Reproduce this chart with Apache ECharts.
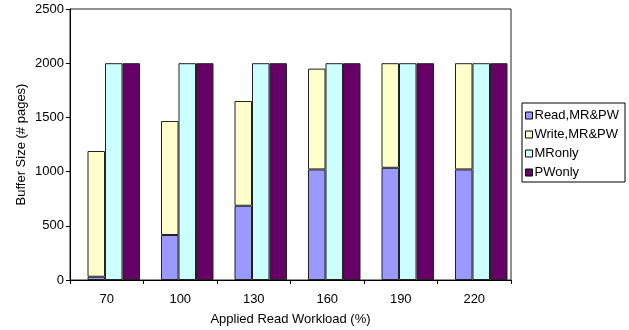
<!DOCTYPE html>
<html><head><meta charset="utf-8">
<script src="https://cdn.jsdelivr.net/npm/echarts@6/dist/echarts.min.js"></script>
<style>html,body{margin:0;padding:0;background:#fff}#c{width:629px;height:330px}</style>
</head><body><div id="c"></div>
<script>
const categories = ['70','100','130','160','190','220'];
const readMRPW = [30, 415, 685, 1020, 1035, 1020];
const writeMRPW = [1160, 1052, 966, 930, 965, 980];
const mrOnly = [2000, 2000, 2000, 2000, 2000, 2000];
const pwOnly = [2000, 2000, 2000, 2000, 2000, 2000];
const seriesNames = ['Read,MR&PW','Write,MR&PW','MRonly','PWonly'];

const font = 'Liberation Sans, Arial, sans-serif';
const fs = 13;
const chart = echarts.init(document.getElementById('c'), null, {renderer:'canvas'});
const border = {borderColor:'#222', borderWidth:1};
chart.setOption({
  animation:false,
  textStyle:{fontFamily:font},
  grid:{left:70,right:118,top:9,bottom:50,outerBoundsMode:'none',containLabel:false,show:true,borderColor:'#222',borderWidth:1,backgroundColor:'transparent'},
  legend:{
    orient:'vertical', left:522, top:103,
    data:seriesNames, icon:'rect', itemWidth:7, itemHeight:7, itemGap:6,
    backgroundColor:'#fff', borderColor:'#000', borderWidth:1,
    padding:[6,6,3,3],
    textStyle:{fontFamily:font,fontSize:fs,color:'#000',padding:[0,0,0,-3]},
    itemStyle:{borderColor:'#000',borderWidth:1}
  },
  xAxis:{
    type:'category', data:categories,
    name:'Applied Read Workload (%)', nameLocation:'middle', nameGap:33, nameMoveOverlap:false,
    nameTextStyle:{fontFamily:font,fontSize:fs,color:'#000'},
    axisLine:{lineStyle:{color:'#000'}},
    axisTick:{show:true,length:4,lineStyle:{color:'#000'}},
    axisLabel:{fontFamily:font,fontSize:fs,color:'#000',margin:13}
  },
  yAxis:{
    type:'value', min:0, max:2500, interval:500,
    name:'Buffer Size (# pages)', nameLocation:'middle', nameGap:42, nameMoveOverlap:false,
    nameTextStyle:{fontFamily:font,fontSize:fs,color:'#000'},
    axisLine:{show:true,lineStyle:{color:'#000'}},
    axisTick:{show:true,length:4,lineStyle:{color:'#000'}},
    axisLabel:{fontFamily:font,fontSize:fs,color:'#000',margin:6,formatter:function(v){return String(v);}},
    splitLine:{show:false}
  },
  series:[
    {name:'_spacer',type:'bar',data:[],barWidth:14,barGap:'0%',itemStyle:{color:'transparent'}},
    {name:seriesNames[0],type:'bar',stack:'a',data:readMRPW,barWidth:17.5,barGap:'0%',itemStyle:Object.assign({color:'#9999FF'},border)},
    {name:seriesNames[1],type:'bar',stack:'a',data:writeMRPW,barWidth:17.5,itemStyle:Object.assign({color:'#FFFFCC'},border)},
    {name:seriesNames[2],type:'bar',data:mrOnly,barWidth:17.5,barGap:'0%',itemStyle:Object.assign({color:'#CCFFFF'},border)},
    {name:seriesNames[3],type:'bar',data:pwOnly,barWidth:17.5,barGap:'0%',itemStyle:Object.assign({color:'#660066'},border)}
  ]
});
</script></body></html>
